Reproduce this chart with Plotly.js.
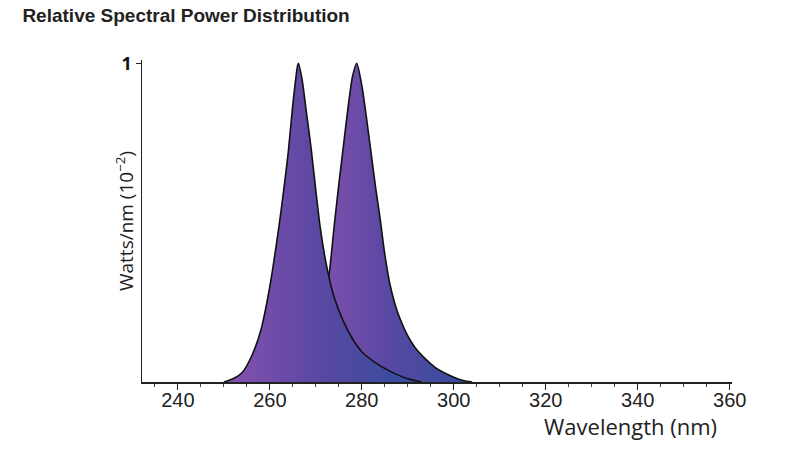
<!DOCTYPE html>
<html>
<head>
<meta charset="utf-8">
<script src="https://cdn.plot.ly/plotly-3.0.1.min.js"></script>
<style>html,body{margin:0;padding:0;background:#fff;}#chart{width:800px;height:450px;}</style>
</head>
<body>
<div id="chart"></div>
<script>
// Peak 1 (~266 nm)
const peak1Wavelength = [250, 252, 254, 256, 258, 260, 262, 263, 264, 265, 266, 266.2, 267, 268, 269, 270, 271, 272, 273, 274, 276, 278, 280, 283, 286, 290, 293];
const peak1Power      = [0, 0.01, 0.03, 0.08, 0.16, 0.30, 0.49, 0.60, 0.72, 0.87, 0.99, 1.0, 0.95, 0.84, 0.73, 0.60, 0.48, 0.39, 0.32, 0.265, 0.19, 0.135, 0.095, 0.06, 0.035, 0.01, 0];
// Peak 2 (~279 nm)
const peak2Wavelength = [262, 265, 268, 270, 271, 272, 273, 274, 275, 276, 277, 278, 278.9, 280, 281, 282, 283, 284, 285, 286, 287, 288, 289, 290, 292, 294, 296, 298, 300, 302, 304];
const peak2Power      = [0, 0.01, 0.04, 0.11, 0.17, 0.25, 0.35, 0.49, 0.62, 0.74, 0.86, 0.96, 1.0, 0.93, 0.83, 0.72, 0.61, 0.51, 0.40, 0.315, 0.255, 0.21, 0.175, 0.145, 0.10, 0.07, 0.045, 0.028, 0.015, 0.005, 0];

const xTickVals = [240, 260, 280, 300, 320, 340, 360];
const yTickVals = [1];
const yTickText = ['1'];

const grad = [[0, '#8450b0'], [0.5, '#5a48a2'], [1, '#3a4c9e']];

const traces = [
  {
    x: peak2Wavelength, y: peak2Power, type: 'scatter', mode: 'lines',
    line: {color: '#111', width: 1.6, shape: 'spline', smoothing: 0.7},
    fill: 'tozeroy',
    fillgradient: {type: 'horizontal', colorscale: grad, start: 270, stop: 300},
    hoverinfo: 'x+y', showlegend: false
  },
  {
    x: peak1Wavelength, y: peak1Power, type: 'scatter', mode: 'lines',
    line: {color: '#111', width: 1.6, shape: 'spline', smoothing: 0.7},
    fill: 'tozeroy',
    fillgradient: {type: 'horizontal', colorscale: grad, start: 252, stop: 288},
    hoverinfo: 'x+y', showlegend: false
  }
];

const layout = {
  width: 800, height: 450,
  margin: {l: 142, r: 68, t: 60, b: 68},
  paper_bgcolor: '#fff', plot_bgcolor: '#fff',
  showlegend: false,
  title: {
    text: '<b>Relative Spectral Power Distribution</b>',
    font: {family: 'Liberation Sans, Arial, sans-serif', size: 19, color: '#222'},
    x: 0.028, xref: 'container', xanchor: 'left', y: 0.965, yanchor: 'middle'
  },
  xaxis: {
    range: [232.2, 360.5],
    tickvals: xTickVals,
    ticks: 'outside', ticklen: 6, tickwidth: 1.2, tickcolor: '#222',
    ticklabelstandoff: -7,
    minor: {dtick: 5, tick0: 0, ticks: 'outside', ticklen: 3, tickcolor: '#444'},
    showline: true, linecolor: '#222', linewidth: 1.5,
    showgrid: false, zeroline: false,
    tickfont: {family: 'Liberation Sans, Arial, sans-serif', size: 20, color: '#222'}
  },
  yaxis: {
    range: [0, 1.01],
    tickvals: yTickVals, ticktext: yTickText,
    ticks: 'outside', ticklen: 5, tickwidth: 1.2, tickcolor: '#222',
    showline: true, linecolor: '#222', linewidth: 1.5,
    showgrid: false, zeroline: false,
    tickfont: {family: 'Open Sans, sans-serif', size: 18, color: '#111', weight: 'bold'}
  },
  annotations: [
    {
      text: 'Watts/nm (10<sup>−2</sup>)', textangle: -90,
      xref: 'paper', yref: 'paper', x: 0, y: 0.5, xshift: -17,
      xanchor: 'center', yanchor: 'middle', showarrow: false,
      font: {family: 'Open Sans, sans-serif', size: 19, color: '#222'}
    },
    {
      text: 'Wavelength (nm)',
      xref: 'paper', yref: 'paper', x: 0.828, y: 0, yshift: -44,
      xanchor: 'center', yanchor: 'middle', showarrow: false,
      font: {family: 'Open Sans, sans-serif', size: 22, color: '#222'}
    }
  ]
};

Plotly.newPlot('chart', traces, layout, {displayModeBar: false, staticPlot: true});
</script>
</body>
</html>
